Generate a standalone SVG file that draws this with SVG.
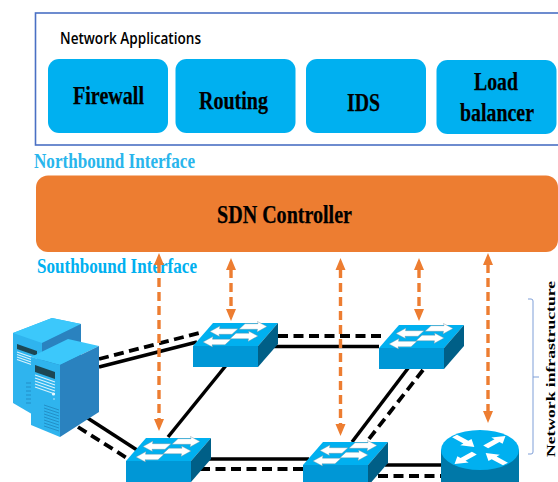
<svg xmlns="http://www.w3.org/2000/svg" width="558" height="482" viewBox="0 0 558 482">
<style>
text{font-family:"Liberation Serif","Times New Roman",serif;font-weight:bold;fill:#000}
.app{fill:#00b0f0}
.big{font-size:26px;stroke:#000;stroke-width:.25}
.if{font-size:21px}
.k{stroke:#000;stroke-width:3.5;fill:none}
.d{stroke:#000;stroke-width:3.8;fill:none;stroke-dasharray:10 5.500}
.o{stroke:#ed7d31;stroke-width:3.400;fill:none;stroke-dasharray:9 5}
.oh{fill:#ed7d31}
.vent{stroke:#1f85bd;stroke-width:.8}
.wl{stroke:#d8f2fc;stroke-width:1.100}
</style>
<defs>
<path id="al" d="M0 0L10-5.500 9.500-2.800H28L22 2.800H9L9.500 5Z" fill="#fff" stroke="#6b8d9c" stroke-width=".4"/>
<path id="ar" d="M0 0L-10 5.500-9.500 2.800H-28L-22-2.800H-9L-9.500-5Z" fill="#fff" stroke="#6b8d9c" stroke-width=".4"/>
<g id="sw">
<path d="M0 0L20-23H85L65 0Z" fill="#00b0f0"/>
<path d="M0 0H65V21H0Z" fill="#0097d6"/>
<path d="M65 0L85-23V-2L65 21Z" fill="#005f87"/>
<use href="#al" x="17" y="-14.500"/>
<use href="#ar" x="74" y="-19.500"/>
<use href="#al" x="10" y="-4"/>
<use href="#ar" x="65" y="-10"/>
</g>
<path id="ra" d="M0-3.500H16V-8L28 0 16 8V3.500H0Z" fill="#fff"/>
</defs>

<g id="network-applications">
<rect x="35.500" y="13" width="530" height="132" fill="#fff" stroke="#4a70c4" stroke-width="1.600"/>
<text x="60" y="43.500" textLength="141" lengthAdjust="spacingAndGlyphs" style="font-family:'Open Sans','Liberation Sans',sans-serif;font-weight:600;font-size:16.500px">Network Applications</text>
</g>
<g id="firewall">
<rect class="app" x="48" y="59" width="120" height="74" rx="11"/>
<text class="big" x="73" y="104" textLength="71" lengthAdjust="spacingAndGlyphs">Firewall</text>
</g>
<g id="routing">
<rect class="app" x="175.500" y="59" width="120" height="74" rx="11"/>
<text class="big" x="199" y="109" textLength="69" lengthAdjust="spacingAndGlyphs">Routing</text>
</g>
<g id="ids">
<rect class="app" x="306" y="59" width="120" height="74" rx="11"/>
<text class="big" x="347" y="110.500" textLength="33" lengthAdjust="spacingAndGlyphs">IDS</text>
</g>
<g id="load-balancer">
<rect class="app" x="436.500" y="60" width="120" height="74" rx="11"/>
<text class="big" x="474" y="89.500" textLength="44" lengthAdjust="spacingAndGlyphs" style="font-size:25px">Load</text>
<text class="big" x="460" y="120.500" textLength="74" lengthAdjust="spacingAndGlyphs" style="font-size:25px">balancer</text>
</g>
<text class="if" x="34" y="167.500" textLength="161" lengthAdjust="spacingAndGlyphs" style="fill:#29b5ec">Northbound Interface</text>
<g id="sdn-controller">
<rect x="36" y="175.500" width="522" height="76.500" rx="12" fill="#ed7d31"/>
<text x="217" y="222.500" font-size="25" textLength="135" lengthAdjust="spacingAndGlyphs" style="stroke:#000;stroke-width:.25">SDN Controller</text>
</g>
<text class="if" x="37" y="272.500" textLength="160" lengthAdjust="spacingAndGlyphs" style="fill:#00b0f0">Southbound Interface</text>

<g id="connectors">
<path class="k" d="M99 367L197 342"/>
<path class="d" d="M99 359L203 332"/>
<path class="k" d="M86 417L137 450"/>
<path class="d" d="M78 427L130 460"/>
<path class="k" d="M228 363L168 437"/>
<path class="k" d="M267 346.500H379"/>
<path class="d" d="M278 336H386"/>
<path class="k" d="M409 367L352 442"/>
<path class="d" d="M423 370L365 444"/>
<path class="k" d="M198 459H309"/>
<path class="d" d="M200 469H303"/>
<path class="k" d="M385 465H441"/>
<path class="d" d="M378 476H441"/>
<path class="o" d="M159 264V420"/>
<path class="oh" d="M159 253l5 12h-10ZM159 431l-5-12h10Z"/>
<path class="o" d="M231 269V310"/>
<path class="oh" d="M231 258l5 12h-10ZM231 321l-5-12h10Z"/>
<path class="o" d="M340.500 269V425"/>
<path class="oh" d="M340.500 258l5 12h-10ZM340.500 436l-5-12h10Z"/>
<path class="o" d="M419 269V310"/>
<path class="oh" d="M419 258l5 12h-10ZM419 321l-5-12h10Z"/>
<path class="o" d="M488 264V412"/>
<path class="oh" d="M488 253l5 12h-10ZM488 423l-5-12h10Z"/>
</g>

<g id="server">
<path d="M13 333L52 318 81 324V400L42 420 13 403Z" fill="#2fb4ee"/>
<path d="M13 333L52 318 81 324 42 343Z" fill="#3cc8fb"/>
<path d="M42 343L81 324V400L42 420Z" fill="#2a82bf"/>
<path d="M17 344L37 351V356L17 349Z" fill="#1c4754"/>
<path class="wl" d="M17 352L37 359M17 354.500L37 361.500M17 357L37 364M17 359.500L37 366.500"/>
<path class="vent" d="M26 383H31M26 387H31M26 391H31M26 395H31M26 399H31M26 403H31"/>
<path d="M31 357L68 339 99 346 60 365Z" fill="#3cc8fb"/>
<path d="M31 357L60 365V437L31 425Z" fill="#2fb4ee"/>
<path d="M60 365L99 346V412L60 437Z" fill="#2a82bf"/>
<path d="M35 365L55 372V379L35 372Z" fill="#1c4754"/>
<path class="wl" d="M35 375L55 382M35 378L55 385M35 381L55 388M35 384L55 391M35 387L55 394"/>
<circle cx="53.500" cy="394" r="1.600" fill="#eaf8fe"/>
<circle cx="54" cy="399" r=".7" fill="#eaf8fe"/>
<path class="vent" d="M44 405L59 410M44 408L59 413M44 411L59 416M44 414L59 419M44 417L59 422M44 420L59 425M44 423L59 428M44 426L59 431"/>
</g>
<g id="switch-1"><use href="#sw" x="193" y="346"/></g>
<g id="switch-2"><use href="#sw" x="379" y="348"/></g>
<g id="switch-3"><use href="#sw" x="126" y="461"/></g>
<g id="switch-4"><use href="#sw" x="303" y="465"/></g>
<g id="router">
<path d="M441 450V486H519V450Z" fill="#0078a8"/>
<ellipse cx="480" cy="450" rx="39" ry="20" fill="#00b0f0"/>
<g transform="translate(480 450) scale(1 .55)">
<use href="#ra" transform="rotate(45) translate(-36 0)"/>
<use href="#ra" transform="rotate(-45) translate(8 0)"/>
<use href="#ra" transform="rotate(135) translate(8 0)"/>
<use href="#ra" transform="rotate(225) translate(-36 0)"/>
</g>
</g>
<g id="network-infrastructure">
<path d="M528 299H531Q533 299 533 301V377H539M533 377V452Q533 454 531 454H528" fill="none" stroke="#7f9fd8" stroke-width="1"/>
<text transform="translate(555 457) rotate(-90)" font-size="13" textLength="176" lengthAdjust="spacingAndGlyphs">Network infrastructure</text>
</g>
</svg>
